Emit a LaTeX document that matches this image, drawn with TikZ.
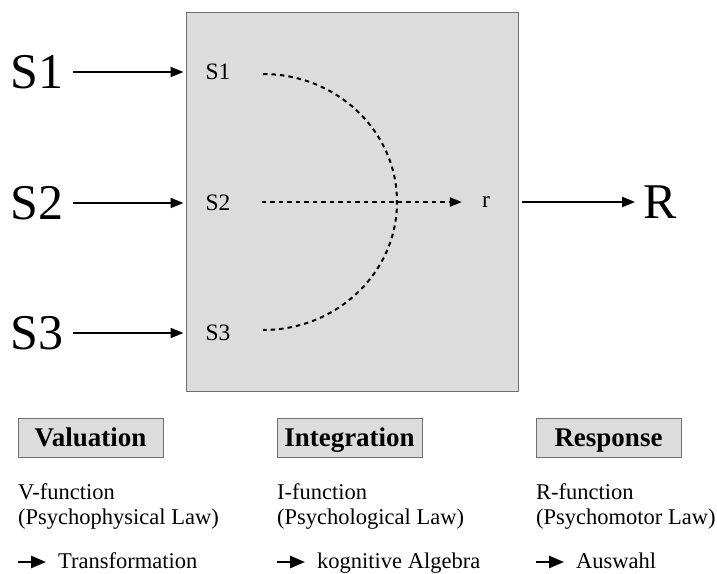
\documentclass[tikz,border=0pt]{standalone}
\usepackage{fontspec}
\setmainfont{Liberation Serif}
\usetikzlibrary{arrows.meta}
\usetikzlibrary{positioning, calc}

\definecolor{panelgray}{HTML}{DCDCDC}
\definecolor{framegray}{HTML}{707070}

\tikzset{
  bigtxt/.style={inner sep=0pt, font=\fontsize{50}{52}\selectfont},
  intxt/.style={inner sep=0pt, font=\fontsize{23.5}{25}\selectfont},
  headbox/.style={draw=framegray, line width=1pt, fill=panelgray, minimum width=145pt, minimum height=39pt, inner sep=0pt, text height=18pt, text depth=0pt, font=\bfseries\fontsize{27}{29}\selectfont},
  txt/.style={inner sep=0pt, anchor=base west, font=\fontsize{22.5}{25}\selectfont},
  arr/.style={-{Triangle[length=13pt,width=10pt]}, line width=2pt},
  smallarr/.style={-{Triangle[length=15pt,width=12pt]}, line width=2.6pt},
  dots/.style={line width=2pt, dash pattern=on 4.5pt off 4pt},
}

\begin{document}
\begin{tikzpicture}[x=1pt, y=-1pt]
  \useasboundingbox (0,0) rectangle (717,573);
  % central box
  \node[draw=framegray, line width=1pt, fill=panelgray, minimum width=332pt, minimum height=379pt, inner sep=0pt] (box) at (352,201.5) {};

  % stimuli
  \node[bigtxt] (S1) at (37,72) {S1};
  \node[bigtxt] (S2) at (37,203) {S2};
  \node[bigtxt] (S3) at (37,333) {S3};
  \node[intxt] (s1) at (218,72) {S1};
  \node[intxt] (s2) at (218,203) {S2};
  \node[intxt] (s3) at (218,333) {S3};
  \foreach \i in {1,2,3}
    \draw[arr] ([xshift=9pt]S\i.east) -- ([xshift=-2pt]S\i -| box.west);

  % integration
  \coordinate (top) at (263,74);
  \draw[dots] (top) arc[start angle=-90, end angle=90, x radius=134, y radius=128];
  \node[intxt] (r) at (486,202) {r};
  \draw[dots, -{Triangle[length=12pt,width=9pt]}] ([xshift=31pt]s2.east |- r) -- ([xshift=-20pt]r.west);

  % response
  \node[bigtxt] (R) at (660,202) {R};
  \draw[arr] ([xshift=3pt]box.east |- R) -- ([xshift=-8pt]R.west);

  % bottom columns
  \node[headbox] (val) at (90.5,437.5) {Valuation};
  \node[headbox] (int) at (349.5,437.5) {Integration};
  \node[headbox] (res) at (608.5,437.5) {Response};

  \node[txt] (v1) at (18,499) {V-function};
  \node[txt] (v2) at (18,524) {(Psychophysical Law)};
  \node[txt] (v3) at (58,568) {Transformation};
  \node[txt] (i1) at (277,499) {I-function};
  \node[txt] (i2) at (277,524) {(Psychological Law)};
  \node[txt] (i3) at (317,568) {kognitive Algebra};
  \node[txt] (r1) at (536,499) {R-function};
  \node[txt] (r2) at (536,524) {(Psychomotor Law)};
  \node[txt] (r3) at (576,568) {Auswahl};

  \coordinate (va) at (18,562);
  \coordinate (ia) at (277,562);
  \coordinate (ra) at (536,562);
  \draw[smallarr] (va) -- ([xshift=-12pt]va -| v3.west);
  \draw[smallarr] (ia) -- ([xshift=-12pt]ia -| i3.west);
  \draw[smallarr] (ra) -- ([xshift=-12pt]ra -| r3.west);
\end{tikzpicture}
\end{document}
